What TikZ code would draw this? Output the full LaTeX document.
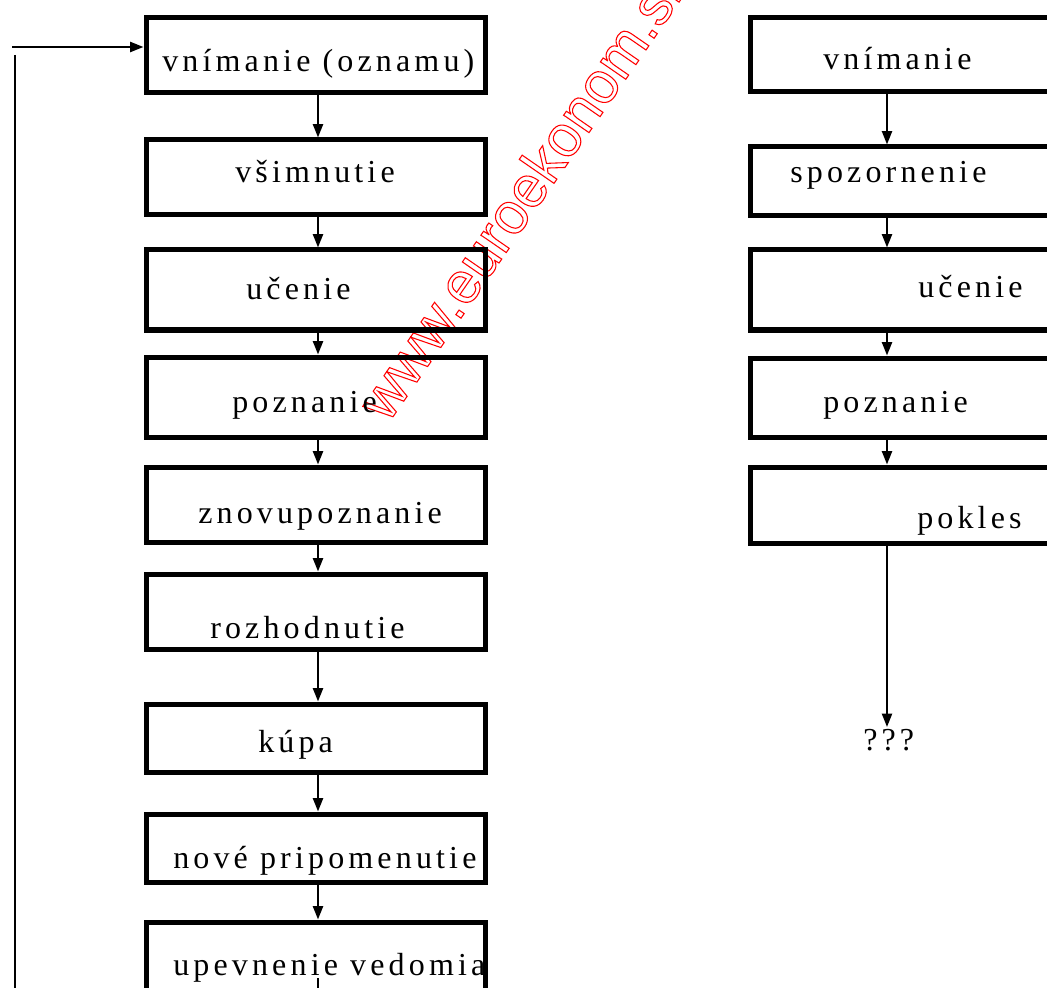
\documentclass[tikz,border=0pt]{standalone}
\usepackage{fontspec}
\setmainfont{Liberation Serif}
\newfontfamily\spaced[LetterSpace=13]{Liberation Serif}
\newfontfamily\wmfont{Liberation Sans}
\usetikzlibrary{arrows.meta}

\tikzset{
  lbox/.style={draw, line width=3.75pt, inner sep=0pt, minimum width=254.25pt},
  rbox/.style={draw, line width=3.75pt, inner sep=0pt, minimum width=262.5pt},
  lbl/.style={anchor=base west, inner sep=0pt, font=\spaced\fontsize{24}{28}\selectfont},
  arr/.style={line width=1.5pt, -{Triangle[width=7.5pt,length=10pt]}},
  wmark/.style={anchor=base west, inner sep=0pt, rotate=55.4, text=red,
    font=\wmfont\fontsize{43.7}{50}\selectfont}
}

\begin{document}
\begin{tikzpicture}[x=0.75pt, y=-0.75pt]
\useasboundingbox (0,0) rectangle (1047,988);
\clip (0,0) rectangle (1047,988);

% watermark
\node[wmark] (wm) at (388,424) {\special{pdf:literal direct 1 Tr 0.8 w}www.euroekonom.sk\special{pdf:literal direct 0 Tr}};

% left column
\node[lbl] (t1) at (162,72) {vnímanie (oznamu)};
\node[lbl] (t2) at (235,183) {všimnutie};
\node[lbl] (t3) at (246,300) {učenie};
\node[lbl] (t4) at (232,412) {poznanie};
\node[lbl] (t5) at (198,523) {znovupoznanie};
\node[lbl] (t6) at (210,638) {rozhodnutie};
\node[lbl] (t7) at (258,752) {kúpa};
\node[lbl] (t8) at (173,868) {nové pripomenutie};
\node[lbl] (t9) at (173,975) {upevnenie vedomia};

\node[lbox, minimum height=55.9pt] (b1) at (315.5,54.75) {};
\node[lbox, minimum height=56.25pt] (b2) at (315.5,177.5) {};
\node[lbox, minimum height=60pt] (b3) at (315.5,290) {};
\node[lbox, minimum height=60pt] (b4) at (315.5,397) {};
\node[lbox, minimum height=56.25pt] (b5) at (315.5,504.5) {};
\node[lbox, minimum height=56.25pt] (b6) at (315.5,611.5) {};
\node[lbox, minimum height=51pt] (b7) at (315.5,738) {};
\node[lbox, minimum height=51pt] (b8) at (315.5,848) {};
\node[lbox, minimum height=60pt] (b9) at (315.5,962) {};

\coordinate (lx) at (318,0);
\draw[arr] (b1.south -| lx) -- (b2.north -| lx);
\draw[arr] (b2.south -| lx) -- (b3.north -| lx);
\draw[arr] (b3.south -| lx) -- (b4.north -| lx);
\draw[arr] (b4.south -| lx) -- (b5.north -| lx);
\draw[arr] (b5.south -| lx) -- (b6.north -| lx);
\draw[arr] (b6.south -| lx) -- (b7.north -| lx);
\draw[arr] (b7.south -| lx) -- (b8.north -| lx);
\draw[arr] (b8.south -| lx) -- (b9.north -| lx);
\coordinate (out) at (318,978);
\draw[line width=1.5pt] (out) -- (out |- b9.south);

% feedback
\coordinate (fb) at (12,47);
\coordinate (fbtop) at (15,55);
\coordinate (fbbot) at (15,1000);
\draw[arr] (fb) -- (fb -| b1.west);
\draw[line width=1.5pt] (fbtop) -- (fbbot);

% right column
\node[lbl] (s1) at (823,70) {vnímanie};
\node[lbl] (s2) at (790,183) {spozornenie};
\node[lbl] (s3) at (918,297) {učenie};
\node[lbl] (s4) at (823,412) {poznanie};
\node[lbl] (s5) at (917,528) {pokles};

\node[rbox, minimum height=55.5pt] (r1) at (925,55) {};
\node[rbox, minimum height=51.75pt] (r2) at (925,181.5) {};
\node[rbox, minimum height=60pt] (r3) at (925,290) {};
\node[rbox, minimum height=59.25pt] (r4) at (925,397.5) {};
\node[rbox, minimum height=57pt] (r5) at (925,505) {};

\coordinate (rx) at (887,0);
\draw[arr] (r1.south -| rx) -- (r2.north -| rx);
\draw[arr] (r2.south -| rx) -- (r3.north -| rx);
\draw[arr] (r3.south -| rx) -- (r4.north -| rx);
\draw[arr] (r4.south -| rx) -- (r5.north -| rx);
\node[lbl] (q) at (863,750) {???};
\coordinate (qtop) at (887,727);
\draw[arr] (r5.south -| rx) -- (qtop);
\end{tikzpicture}
\end{document}
